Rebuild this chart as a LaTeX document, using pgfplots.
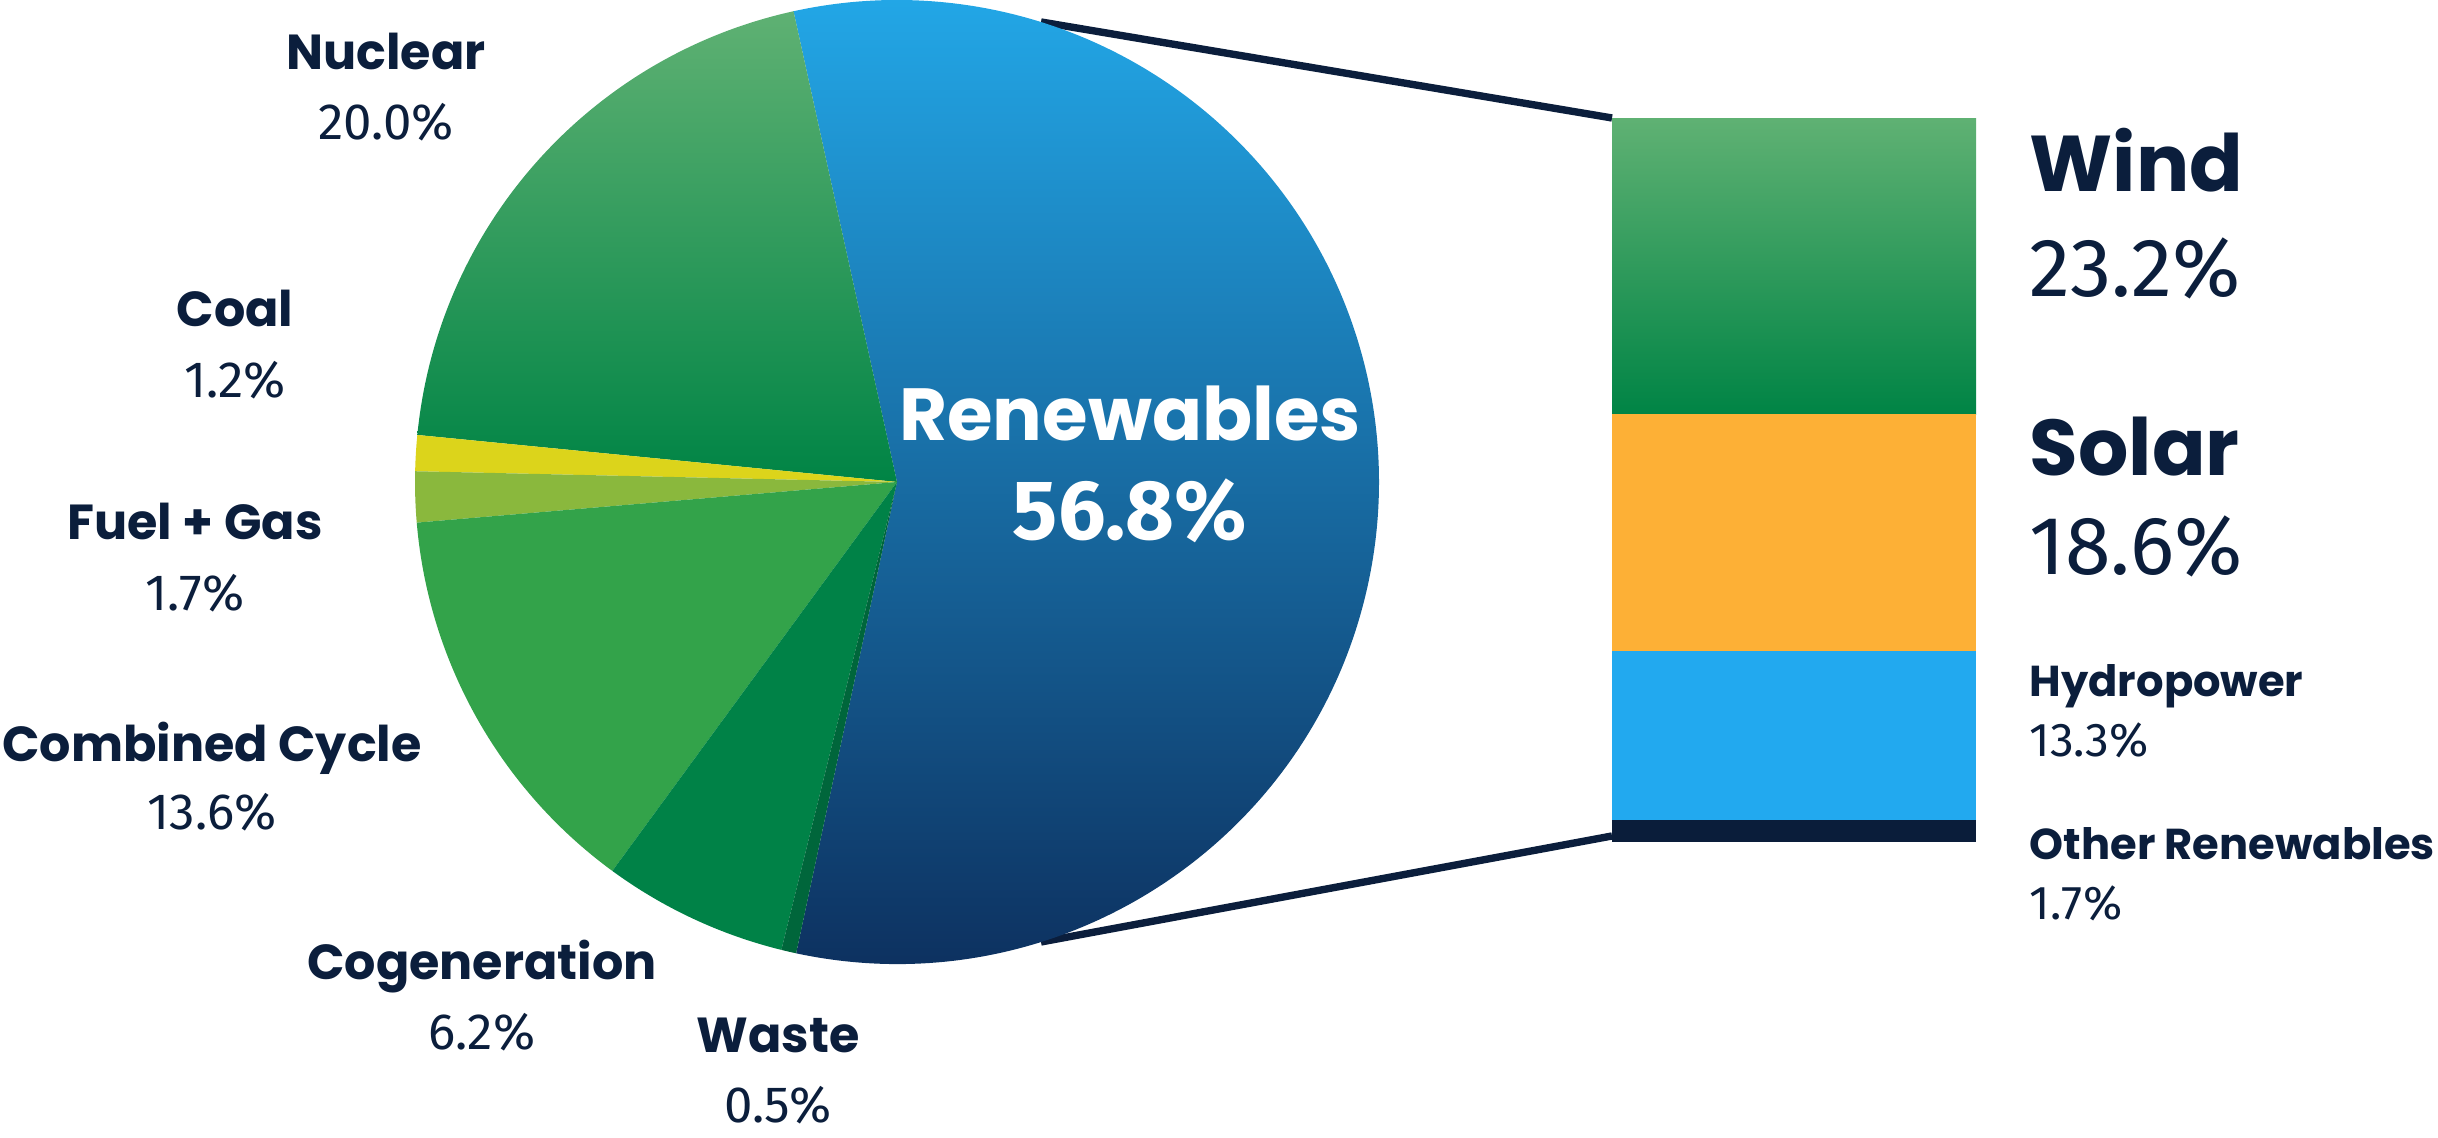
\documentclass[border=0pt]{standalone}
\usepackage{pgfplots}
\pgfplotsset{compat=1.18}
\usepackage{fontspec}
\setmainfont{Poppins}
\newfontfamily\numfont{Fira Sans}

\definecolor{ink}{HTML}{0B1E3C}
\definecolor{renewtop}{HTML}{23A9E9}
\definecolor{renewbot}{HTML}{0C2C5A}
\definecolor{nuctop}{HTML}{5FB173}
\definecolor{nucbot}{HTML}{008445}
\definecolor{coalc}{HTML}{DCD41B}
\definecolor{fuelc}{HTML}{8AB83D}
\definecolor{combc}{HTML}{33A34A}
\definecolor{cogenc}{HTML}{008247}
\definecolor{wastec}{HTML}{00663B}
\definecolor{solarc}{HTML}{FDB036}
\definecolor{hydroc}{HTML}{22A9EF}
\definecolor{otherc}{HTML}{0A1D3A}

% angle of the nuclear/renewables boundary (degrees)
\def\T{102.4}
% slice: start (cumulative %), size (%), style
\newcommand\slice[3]{%
  \path[#3] (axis cs:897,656) -- ++({\T+#1*3.6}:4.82cm)
    arc[start angle={\T+#1*3.6}, delta angle={#2*3.6}, radius=4.82cm] -- cycle;}

\newcommand\lab[1]{\fontsize{#1}{#1}\selectfont\bfseries\color{ink}}
\newcommand\num[1]{\fontsize{#1}{#1}\selectfont\numfont\color{ink}}

\begin{document}
\begin{tikzpicture}
\begin{axis}[
  width=24.38cm, height=11.38cm, scale only axis,
  xmin=0, xmax=2438, ymin=0, ymax=1138,
  hide axis, clip=false,
]
% connector lines (under the pie)
\draw[ink, line width=2.1pt] (axis cs:1612,1020) -- (axis cs:1041,1116);
\draw[ink, line width=2.1pt] (axis cs:1612,302) -- (axis cs:1041,196);

% pie
\slice{-56.8}{56.8}{top color=renewtop, bottom color=renewbot}
\slice{0}{20.0}{top color=nuctop, bottom color=nucbot}
\slice{20.0}{1.2}{fill=coalc}
\slice{21.2}{1.7}{fill=fuelc}
\slice{22.9}{13.6}{fill=combc}
\slice{36.5}{6.2}{fill=cogenc}
\slice{42.7}{0.5}{fill=wastec}

% pie labels
\node[anchor=base] at (axis cs:386,1068) {\lab{14pt}Nuclear};
\node[anchor=base] at (axis cs:386,998) {\num{14.5pt}20.0\%};
\node[anchor=base] at (axis cs:235,811) {\lab{14pt}Coal};
\node[anchor=base] at (axis cs:235,740) {\num{14.5pt}1.2\%};
\node[anchor=base] at (axis cs:195,598) {\lab{14pt}Fuel + Gas};
\node[anchor=base] at (axis cs:195,527) {\num{14.5pt}1.7\%};
\node[anchor=base] at (axis cs:212,376) {\lab{14pt}Combined Cycle};
\node[anchor=base] at (axis cs:212,308) {\num{14.5pt}13.6\%};
\node[anchor=base] at (axis cs:482,158) {\lab{14pt}Cogeneration};
\node[anchor=base] at (axis cs:482,88) {\num{14.5pt}6.2\%};
\node[anchor=base] at (axis cs:778,85) {\lab{14pt}Waste};
\node[anchor=base] at (axis cs:778,15) {\num{14.5pt}0.5\%};
\node[anchor=base, text=white] at (axis cs:1130,697)
  {\fontsize{21pt}{21pt}\selectfont\bfseries Renewables};
\node[anchor=base, text=white] at (axis cs:1130,598)
  {\fontsize{24pt}{24pt}\selectfont\numfont\bfseries 56.8\%};

% bar labels
\node[anchor=base west, inner sep=0pt] at (axis cs:2029,946) {\lab{22.5pt}Wind};
\node[anchor=base west, inner sep=0pt] at (axis cs:2029,841) {\num{23.5pt}23.2\%};
\node[anchor=base west, inner sep=0pt] at (axis cs:2029,662) {\lab{22.5pt}Solar};
\node[anchor=base west, inner sep=0pt] at (axis cs:2029,563) {\num{23.5pt}18.6\%};
\node[anchor=base west, inner sep=0pt] at (axis cs:2029,441) {\lab{12.3pt}Hydropower};
\node[anchor=base west, inner sep=0pt] at (axis cs:2029,381) {\num{13.5pt}13.3\%};
\node[anchor=base west, inner sep=0pt] at (axis cs:2029,278) {\lab{12.3pt}Other Renewables};
\node[anchor=base west, inner sep=0pt] at (axis cs:2029,218) {\num{13.5pt}1.7\%};
\end{axis}

% breakdown of renewables
\begin{axis}[
  at={(16.12cm,2.96cm)}, anchor=south west,
  width=3.64cm, height=7.23cm, scale only axis,
  xmin=0, xmax=1, ymin=0, ymax=56.8,
  hide axis, clip=false,
  ybar stacked, bar width=3.64cm, bar shift=0pt,
]
\addplot[draw=none, fill=otherc] coordinates {(0.5,1.7)};
\addplot[draw=none, fill=hydroc] coordinates {(0.5,13.3)};
\addplot[draw=none, fill=solarc] coordinates {(0.5,18.6)};
\addplot[draw=none, top color=nuctop, bottom color=nucbot] coordinates {(0.5,23.2)};
\end{axis}
\pgfresetboundingbox
\path (0,0) rectangle (24.38cm,11.38cm);
\end{tikzpicture}
\end{document}
